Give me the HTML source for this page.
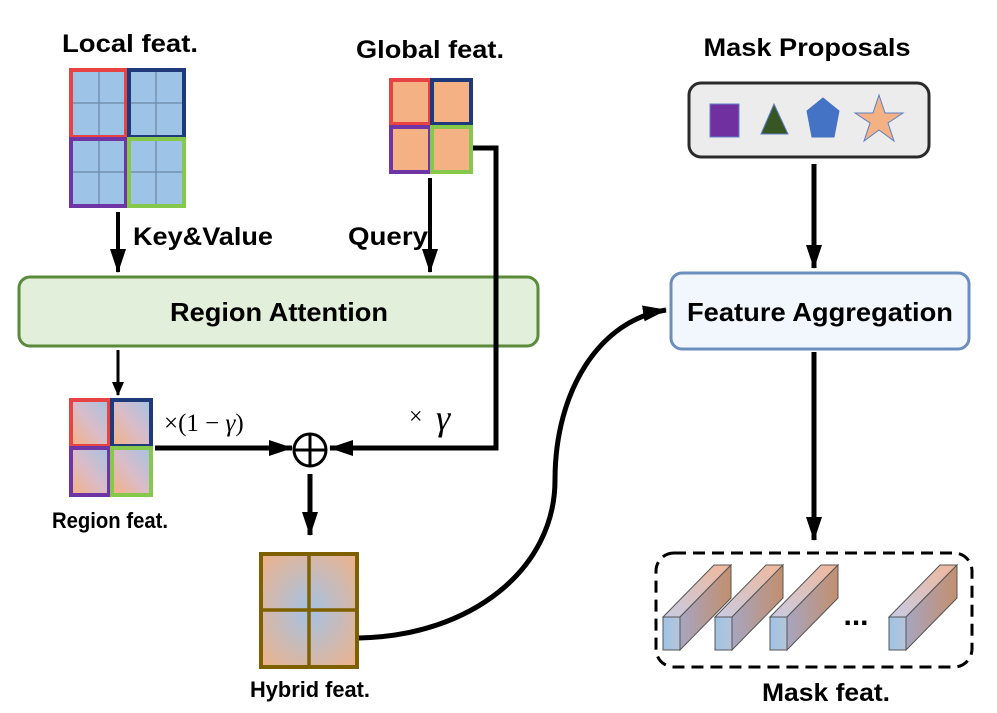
<!DOCTYPE html>
<html><head><meta charset="utf-8"><style>
html,body{margin:0;padding:0;background:#fff;}
svg{display:block;}
.b{font-family:"Liberation Sans",sans-serif;font-weight:bold;fill:#000;}
.m{font-family:"Liberation Serif",serif;font-weight:normal;fill:#000;}
</style></head><body>
<svg width="997" height="713" viewBox="0 0 997 713" xmlns="http://www.w3.org/2000/svg">
<defs>
<marker id="ahm" markerWidth="14" markerHeight="12" refX="13" refY="6" orient="auto" markerUnits="userSpaceOnUse" viewBox="0 0 14 12">
<path d="M0,0 L14,6 L0,12 z" fill="#000"/></marker>
<marker id="ahb" markerWidth="24" markerHeight="16" refX="23" refY="8" orient="auto" markerUnits="userSpaceOnUse" viewBox="0 0 24 16">
<path d="M0,0 L24,8 L0,16 z" fill="#000"/></marker>
<linearGradient id="mix" x1="0" y1="1" x2="1" y2="0">
<stop offset="0" stop-color="#f4b183"/><stop offset="0.5" stop-color="#d9bcc9"/><stop offset="1" stop-color="#a4c2e4"/></linearGradient>
<radialGradient id="hyb" cx="0.5" cy="0.5" r="0.75">
<stop offset="0" stop-color="#a4c2e4"/><stop offset="1" stop-color="#f4b183"/></radialGradient>
<linearGradient id="pside" x1="0" y1="0" x2="1" y2="0">
<stop offset="0" stop-color="#a7a5c0"/><stop offset="1" stop-color="#c38f6e"/></linearGradient>
<linearGradient id="ptop" x1="0" y1="1" x2="1" y2="0">
<stop offset="0" stop-color="#c8cbe4"/><stop offset="1" stop-color="#f0b89a"/></linearGradient>
<linearGradient id="pfront" x1="0" y1="0" x2="1" y2="0">
<stop offset="0" stop-color="#9dc3e6"/><stop offset="1" stop-color="#b7c4d8"/></linearGradient>
</defs>

<text class="b" x="130" y="52" font-size="25" text-anchor="middle" textLength="136" lengthAdjust="spacingAndGlyphs">Local feat.</text>
<text class="b" x="430" y="58" font-size="25" text-anchor="middle" textLength="148" lengthAdjust="spacingAndGlyphs">Global feat.</text>
<text class="b" x="807" y="56" font-size="25" text-anchor="middle" textLength="207" lengthAdjust="spacingAndGlyphs">Mask Proposals</text>

<g stroke-width="4">
<rect x="71" y="70" width="55" height="67" fill="#9dc3e6" stroke="#e84343"/>
<rect x="129" y="70" width="55" height="67" fill="#9dc3e6" stroke="#1f3a7a"/>
<rect x="71" y="139" width="55" height="67" fill="#9dc3e6" stroke="#6f35a5"/>
<rect x="129" y="139" width="55" height="67" fill="#9dc3e6" stroke="#86c84a"/>
</g>
<g stroke="#6d87a5" stroke-width="1.2">
<line x1="99" y1="72" x2="99" y2="135"/><line x1="73" y1="103" x2="124" y2="103"/>
<line x1="156" y1="72" x2="156" y2="135"/><line x1="131" y1="103" x2="182" y2="103"/>
<line x1="99" y1="141" x2="99" y2="204"/><line x1="73" y1="172" x2="124" y2="172"/>
<line x1="156" y1="141" x2="156" y2="204"/><line x1="131" y1="172" x2="182" y2="172"/>
</g>

<g stroke-width="4">
<rect x="391" y="80" width="39" height="44" fill="#f4b183" stroke="#e84343"/>
<rect x="432" y="80" width="39" height="44" fill="#f4b183" stroke="#1f3a7a"/>
<rect x="391" y="127" width="39" height="45" fill="#f4b183" stroke="#6f35a5"/>
<rect x="432" y="127" width="39" height="45" fill="#f4b183" stroke="#86c84a"/>
</g>

<line x1="118" y1="212" x2="118" y2="272" stroke="#000" stroke-width="4" marker-end="url(#ahb)"/>
<text class="b" x="133" y="245" font-size="25" textLength="140" lengthAdjust="spacingAndGlyphs">Key&amp;Value</text>
<line x1="430" y1="178" x2="430" y2="272" stroke="#000" stroke-width="4" marker-end="url(#ahb)"/>
<text class="b" x="348" y="245" font-size="25" textLength="80" lengthAdjust="spacingAndGlyphs">Query</text>

<rect x="19" y="277" width="519" height="69" rx="11" fill="#e2efda" stroke="#5a8a3a" stroke-width="3"/>
<text class="b" x="279" y="321" font-size="26" text-anchor="middle" textLength="218" lengthAdjust="spacingAndGlyphs">Region Attention</text>

<polyline points="473,148 496,148 496,448 330,448" fill="none" stroke="#000" stroke-width="5" marker-end="url(#ahb)"/>
<text class="m" x="409" y="424" font-size="24">×</text>
<text class="m" x="436" y="430" font-size="36" font-style="italic">γ</text>

<line x1="118" y1="350" x2="118" y2="395" stroke="#000" stroke-width="3" marker-end="url(#ahm)"/>

<g stroke-width="4">
<rect x="71" y="400" width="38" height="46" fill="url(#mix)" stroke="#e84343"/>
<rect x="112" y="400" width="39" height="46" fill="url(#mix)" stroke="#1f3a7a"/>
<rect x="71" y="448" width="38" height="47" fill="url(#mix)" stroke="#6f35a5"/>
<rect x="112" y="448" width="39" height="47" fill="url(#mix)" stroke="#86c84a"/>
</g>
<text class="b" x="110" y="528" font-size="22" text-anchor="middle" textLength="116" lengthAdjust="spacingAndGlyphs">Region feat.</text>
<line x1="155" y1="448" x2="292" y2="448" stroke="#000" stroke-width="5" marker-end="url(#ahb)"/>
<text class="m" x="164" y="431" font-size="25">×(1 − <tspan font-style="italic">γ</tspan>)</text>

<circle cx="310" cy="450" r="16" fill="#fff" stroke="#000" stroke-width="3"/>
<line x1="294" y1="450" x2="326" y2="450" stroke="#000" stroke-width="3"/>
<line x1="310" y1="434" x2="310" y2="466" stroke="#000" stroke-width="3"/>
<line x1="310" y1="474" x2="310" y2="535" stroke="#000" stroke-width="5" marker-end="url(#ahb)"/>

<rect x="261" y="554" width="96" height="113" fill="url(#hyb)" stroke="#7f6000" stroke-width="4"/>
<line x1="309" y1="554" x2="309" y2="667" stroke="#7f6000" stroke-width="3.5"/>
<line x1="261" y1="610" x2="357" y2="610" stroke="#7f6000" stroke-width="3.5"/>
<text class="b" x="310" y="697" font-size="22" text-anchor="middle" textLength="120" lengthAdjust="spacingAndGlyphs">Hybrid feat.</text>

<path d="M359,638 C470,636 555,570 555,480 C555,390 600,320 666,310" fill="none" stroke="#000" stroke-width="5" marker-end="url(#ahb)"/>

<rect x="689" y="83" width="240" height="74" rx="12" fill="#ececec" stroke="#2a2a2a" stroke-width="3"/>
<rect x="710" y="104" width="29" height="33" fill="#7030a0" stroke="#5b7fc7" stroke-width="1"/>
<polygon points="774,104 788,134 761,134" fill="#375623" stroke="#5b7fc7" stroke-width="1"/>
<polygon points="823,98 839,111 834,137 812,137 807,111" fill="#4472c4" stroke="#4472c4"/>
<polygon points="879,95 885,113 903,113 888,123 894,141 879,130 864,141 870,123 855,113 873,113" fill="#f4b183" stroke="#5b7fc7" stroke-width="1"/>
<line x1="814" y1="164" x2="814" y2="268" stroke="#000" stroke-width="5" marker-end="url(#ahb)"/>

<rect x="671" y="273" width="298" height="76" rx="11" fill="#f2f7fd" stroke="#6c8ebf" stroke-width="3"/>
<text class="b" x="820" y="321" font-size="26" text-anchor="middle" textLength="266" lengthAdjust="spacingAndGlyphs">Feature Aggregation</text>
<line x1="814" y1="352" x2="814" y2="540" stroke="#000" stroke-width="5" marker-end="url(#ahb)"/>

<rect x="656" y="553" width="316" height="114" rx="18" fill="none" stroke="#000" stroke-width="3" stroke-dasharray="12,7"/>
<g stroke="#555" stroke-width="1">
<g id="pr">
<polygon points="663,617 714,565 731,565 680,617" fill="url(#ptop)"/>
<polygon points="680,617 731,565 731,598 680,650" fill="url(#pside)"/>
<rect x="663" y="617" width="17" height="33" fill="url(#pfront)"/>
</g>
<use href="#pr" transform="translate(52,0)"/>
<use href="#pr" transform="translate(107,0)"/>
<use href="#pr" transform="translate(226,0)"/>
</g>
<text class="b" x="856" y="625" font-size="30" text-anchor="middle">...</text>
<text class="b" x="826" y="701" font-size="25" text-anchor="middle" textLength="128" lengthAdjust="spacingAndGlyphs">Mask feat.</text>
</svg>
</body></html>
